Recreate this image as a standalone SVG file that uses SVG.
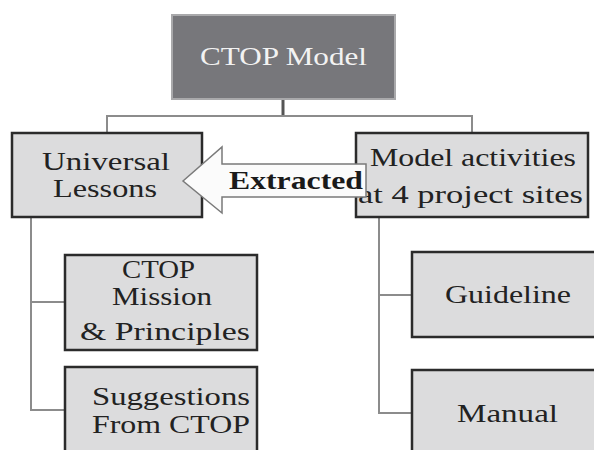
<svg xmlns="http://www.w3.org/2000/svg" width="594" height="450" viewBox="0 0 594 450">
<style>
.box{fill:#dcdcdd;stroke:#2b2b2b;stroke-width:2.5}
.top{fill:#77777b;stroke:#a9a9ab;stroke-width:2}
.t{font-family:"Liberation Serif","Times New Roman",serif;font-size:25px;fill:#222}
.tw{font-family:"Liberation Serif","Times New Roman",serif;font-size:26px;fill:#f2f2f2}
.tb{font-family:"Liberation Serif","Times New Roman",serif;font-size:25px;font-weight:bold;fill:#1a1a1a}
.ln{fill:none;stroke:#8c8c8c;stroke-width:2}
</style>
<rect width="594" height="450" fill="#ffffff"/>
<g id="connectors">
<line x1="283" y1="99" x2="283" y2="116" stroke="#555" stroke-width="3"/>
<polyline class="ln" points="107,133 107,116 472,116 472,133"/>
<polyline class="ln" points="31,217 31,410 65,410"/>
<line class="ln" x1="31" y1="302" x2="65" y2="302"/>
<polyline class="ln" points="379,217 379,413 412,413"/>
<line class="ln" x1="379" y1="295" x2="412" y2="295"/>
</g>
<g id="ctop-model">
<rect class="top" x="172" y="15" width="223" height="84"/>
<text class="tw" x="200" y="65" textLength="167" lengthAdjust="spacingAndGlyphs">CTOP Model</text>
</g>
<g id="universal-lessons">
<rect class="box" x="12" y="133" width="190" height="84"/>
<text class="t" x="42" y="170" textLength="128" lengthAdjust="spacingAndGlyphs">Universal</text>
<text class="t" x="53" y="197" textLength="104" lengthAdjust="spacingAndGlyphs">Lessons</text>
</g>
<g id="model-activities">
<rect class="box" x="356" y="133" width="232" height="84"/>
<text class="t" x="370" y="166" textLength="206" lengthAdjust="spacingAndGlyphs">Model activities</text>
<text class="t" x="358" y="203" textLength="225" lengthAdjust="spacingAndGlyphs">at 4 project sites</text>
</g>
<g id="extracted-arrow">
<polygon points="183,181 222,147 222,164 366,164 366,197 222,197 222,213" fill="#fbfbfb" stroke="#7a7a7a" stroke-width="1.5"/>
<text class="tb" x="229" y="189" textLength="134" lengthAdjust="spacingAndGlyphs">Extracted</text>
</g>
<g id="mission">
<rect class="box" x="65" y="255" width="192" height="95"/>
<text class="t" x="122" y="278" textLength="73" lengthAdjust="spacingAndGlyphs">CTOP</text>
<text class="t" x="112" y="305" textLength="100" lengthAdjust="spacingAndGlyphs">Mission</text>
<text class="t" x="80" y="340" textLength="170" lengthAdjust="spacingAndGlyphs">&amp; Principles</text>
</g>
<g id="suggestions">
<rect class="box" x="65" y="367" width="192" height="100"/>
<text class="t" x="92" y="405" textLength="158" lengthAdjust="spacingAndGlyphs">Suggestions</text>
<text class="t" x="92" y="433" textLength="158" lengthAdjust="spacingAndGlyphs">From CTOP</text>
</g>
<g id="guideline">
<rect class="box" x="412" y="252" width="200" height="85"/>
<text class="t" x="445" y="303" textLength="126" lengthAdjust="spacingAndGlyphs">Guideline</text>
</g>
<g id="manual">
<rect class="box" x="412" y="370" width="200" height="100"/>
<text class="t" x="457" y="422" textLength="101" lengthAdjust="spacingAndGlyphs">Manual</text>
</g>
</svg>
